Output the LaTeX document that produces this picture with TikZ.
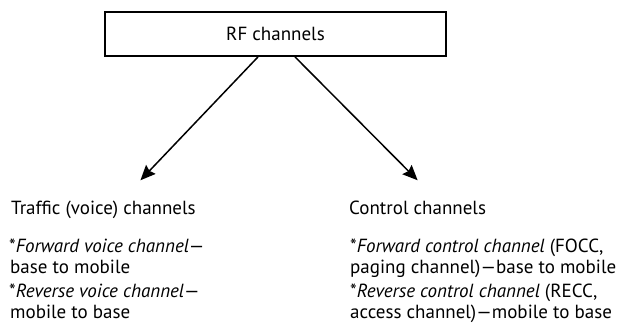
\documentclass[tikz,border=0pt]{standalone}
\usepackage{fontspec}
\setmainfont{PT Sans}
\usetikzlibrary{positioning,arrows.meta}
\tikzstyle{chanbox}=[rectangle, draw=black, line width=1.8pt, minimum width=341pt,
        minimum height=44pt, text centered, font=\fontsize{19}{23}\selectfont]
\tikzstyle{chantext}=[inner sep=0pt, anchor=base west, font=\fontsize{19}{23}\selectfont]
\tikzstyle{myarrow}=[-{Stealth[length=15pt,width=13pt,inset=2pt]}, line width=1.5pt]

\begin{document}
\begin{tikzpicture}[x=1pt,y=1pt]
	\useasboundingbox (0,0) rectangle (624,322);

	\node (RFChannels) [chanbox] at (275.5,288) {RF channels};

	\node (Traffic) [chantext] at (11,108) {Traffic (voice) channels};
	\node (ForwardVoice) [chantext] at (9,70) {*\textit{Forward voice channel}---};
	\node (ForwardVoiceDir) [chantext] at (10,49) {base to mobile};
	\node (ReverseVoice) [chantext] at (9,25) {*\textit{Reverse voice channel}---};
	\node (ReverseVoiceDir) [chantext] at (10,4) {mobile to base};

	\node (Control) [chantext] at (349,108) {Control channels};
	\node (ForwardControl) [chantext] at (350,70) {*\textit{Forward control channel} (FOCC,};
	\node (ForwardControlDir) [chantext] at (350,49) {paging channel)---base to mobile};
	\node (ReverseControl) [chantext] at (350,25) {*\textit{Reverse control channel} (RECC,};
	\node (ReverseControlDir) [chantext] at (350,4) {access channel)---mobile to base};

\draw[myarrow] ([xshift=-17.5pt]RFChannels.south) -- ([xshift=37pt,yshift=20pt]Traffic.north);
\draw[myarrow] ([xshift=19.5pt]RFChannels.south) -- ([yshift=20pt]Control.north);
\end{tikzpicture}
\end{document}
